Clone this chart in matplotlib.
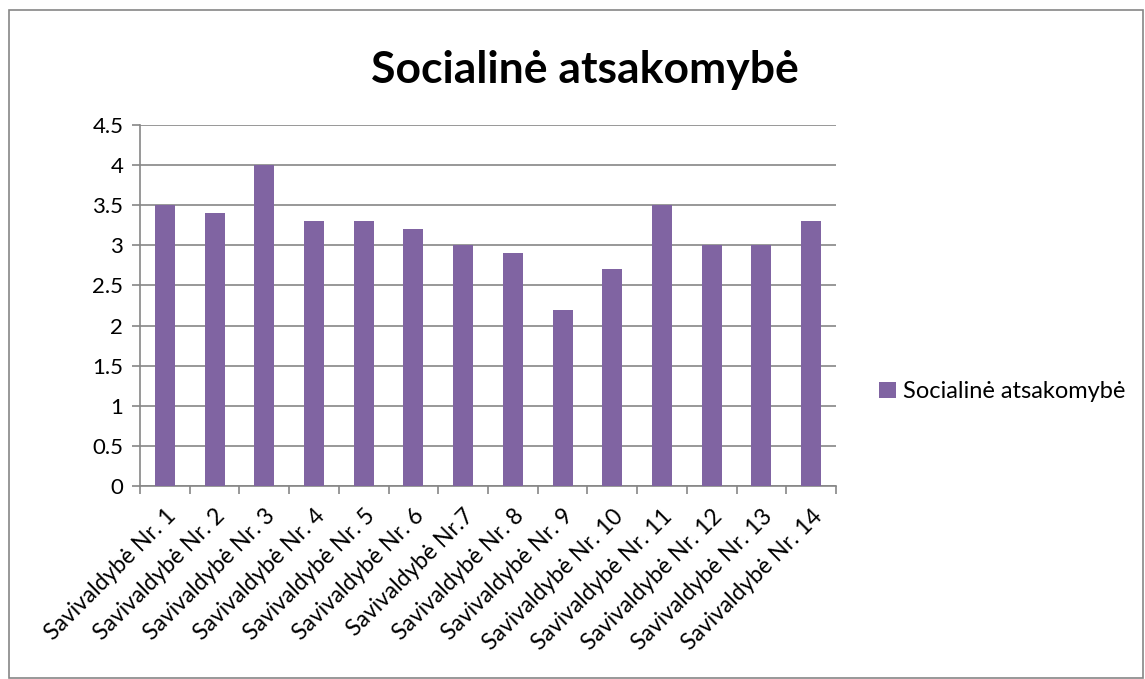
import matplotlib.pyplot as plt
import numpy as np
from matplotlib.patches import Rectangle

plt.rcParams['font.family'] = ['Lato', 'DejaVu Sans']

labels = ['Savivaldybė Nr. 1', 'Savivaldybė Nr. 2', 'Savivaldybė Nr. 3', 'Savivaldybė Nr. 4',
          'Savivaldybė Nr. 5', 'Savivaldybė Nr. 6', 'Savivaldybė Nr.7', 'Savivaldybė Nr. 8',
          'Savivaldybė Nr. 9', 'Savivaldybė Nr. 10', 'Savivaldybė Nr. 11', 'Savivaldybė Nr. 12',
          'Savivaldybė Nr. 13', 'Savivaldybė Nr. 14']
values = [3.5, 3.4, 4.0, 3.3, 3.3, 3.2, 3.0, 2.9, 2.2, 2.7, 3.5, 3.0, 3.0, 3.3]
series_name = 'Socialinė atsakomybė'
yticks = [0, 0.5, 1, 1.5, 2, 2.5, 3, 3.5, 4, 4.5]

W, H = 1145, 679
fig = plt.figure(figsize=(W / 100, H / 100), dpi=100)
ax = fig.add_axes([140 / W, 1 - 486 / H, (836 - 140) / W, (486 - 125) / H])

x = np.arange(len(values))
ax.bar(x, values, width=0.4, color='#8064A2', label=series_name, zorder=3)

ax.set_xlim(-0.5, len(values) - 0.5)
ax.set_ylim(0, 4.5)
ax.set_yticks(yticks)
ax.set_yticklabels([f'{v:g}' for v in yticks], fontsize=16)
ax.yaxis.grid(True, color='#868686', linewidth=1.2, zorder=0)

ax.set_xticks(x)
ax.set_xticklabels(labels, rotation=45, ha='right', rotation_mode='anchor', fontsize=16.5)
ax.set_xticks(np.arange(-0.5, len(values)), minor=True)
ax.tick_params(axis='x', which='major', length=0, pad=14)
ax.tick_params(axis='x', which='minor', length=6, color='#868686', width=1.2)
ax.tick_params(axis='y', length=6, color='#868686', width=1.2, pad=6)

for s in ['top', 'right']:
    ax.spines[s].set_visible(False)
for s in ['left', 'bottom']:
    ax.spines[s].set_color('#868686')
    ax.spines[s].set_linewidth(1.2)

fig.text(585 / W, 1 - 70 / H, series_name, fontsize=32, fontweight='bold', ha='center', va='center')

fig.legend(loc='center left', bbox_to_anchor=(879 / W, 1 - 392 / H), frameon=False,
           borderaxespad=0, borderpad=0,
           fontsize=17, handlelength=0.7, handleheight=0.7, handletextpad=0.3)

fig.patches.append(Rectangle((9 / W, 1 / H), (W - 11) / W, (H - 11) / H, transform=fig.transFigure,
                             fill=False, edgecolor='#868686', linewidth=1.2))

fig.savefig('out.png', dpi=100)
